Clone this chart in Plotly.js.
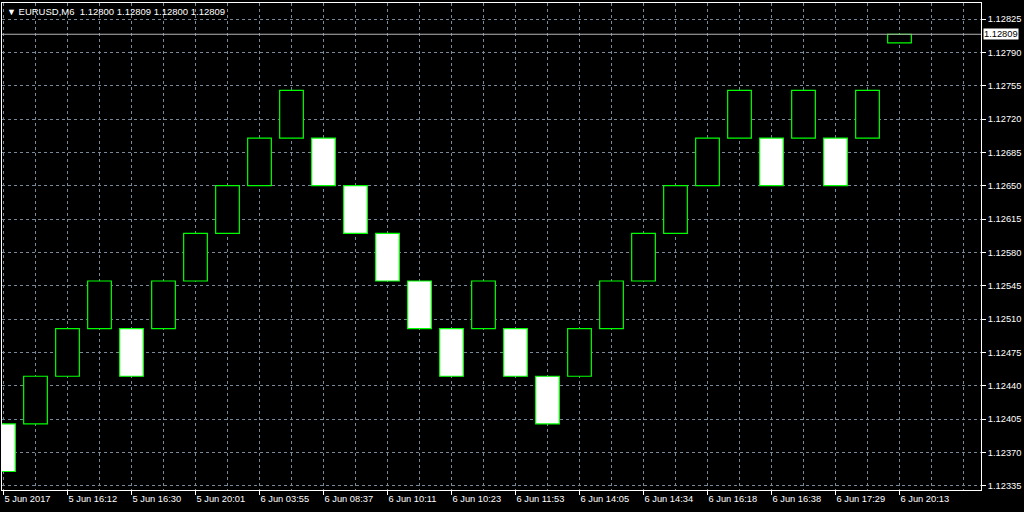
<!DOCTYPE html>
<html>
<head>
<meta charset="utf-8">
<script src="https://cdn.plot.ly/plotly-3.0.1.min.js"></script>
<style>
  html, body { margin: 0; padding: 0; background: #000; }
  #chart { width: 1024px; height: 512px; }
</style>
</head>
<body>
<div id="chart"></div>
<script>
// Renko bars (EURUSD, M6 offline chart)
const barOpen = [1.12400, 1.12400, 1.12450, 1.12500, 1.12500, 1.12500, 1.12550, 1.12600, 1.12650, 1.12700,
                 1.12700, 1.12650, 1.12600, 1.12550, 1.12500, 1.12500, 1.12500, 1.12450, 1.12450, 1.12500,
                 1.12550, 1.12600, 1.12650, 1.12700, 1.12700, 1.12700, 1.12700, 1.12700, 1.12800];
const barClose = [1.12350, 1.12450, 1.12500, 1.12550, 1.12450, 1.12550, 1.12600, 1.12650, 1.12700, 1.12750,
                  1.12650, 1.12600, 1.12550, 1.12500, 1.12450, 1.12550, 1.12450, 1.12400, 1.12500, 1.12550,
                  1.12600, 1.12650, 1.12700, 1.12750, 1.12650, 1.12750, 1.12650, 1.12750, 1.12809];
const timeLabels = ["5 Jun 2017", "5 Jun 16:12", "5 Jun 16:30", "5 Jun 20:01", "6 Jun 03:55",
                    "6 Jun 08:37", "6 Jun 10:11", "6 Jun 10:23", "6 Jun 11:53", "6 Jun 14:05",
                    "6 Jun 14:34", "6 Jun 16:18", "6 Jun 16:38", "6 Jun 17:29", "6 Jun 20:13"];
const symbolName = "EURUSD,M6";

const idx = barOpen.map((_, i) => i);
const base = barOpen.map((o, i) => Math.min(o, barClose[i]));
const len = barOpen.map((o, i) => Math.abs(barClose[i] - o));
const fills = barOpen.map((o, i) => barClose[i] < o ? '#ffffff' : '#000000');
const labelIdx = timeLabels.map((_, k) => k * 2);

const n = barOpen.length;
const lastO = barOpen[n - 1], lastC = barClose[n - 1];
const lastH = Math.max(lastO, lastC), lastL = Math.min(lastO, lastC);

const FONT = 'Liberation Sans, Arial, sans-serif';
const GRID = '#778899';

const trace = {
  type: 'bar',
  x: idx,
  base: base,
  y: len,
  width: 0.74,
  marker: { color: fills, line: { color: '#00ff00', width: 1.2 } },
  hoverinfo: 'none'
};

const layout = {
  width: 1024, height: 512,
  paper_bgcolor: '#000000',
  plot_bgcolor: '#000000',
  margin: { l: 2, r: 43, t: 3, b: 22, pad: 0 },
  showlegend: false,
  xaxis: {
    range: [-0.047, 30.547],
    tickmode: 'array',
    tickvals: labelIdx,
    ticktext: timeLabels,
    ticks: 'outside', ticklen: 4, tickwidth: 1, tickcolor: '#ffffff',
    ticklabelposition: 'outside right',
    tickfont: { family: FONT, size: 9.3, color: '#ffffff' },
    showgrid: true, gridcolor: GRID, gridwidth: 1, griddash: '3px,3px',
    minor: { tickmode: 'linear', tick0: 0, dtick: 1, showgrid: true, gridcolor: GRID, gridwidth: 1, griddash: '3px,3px', ticks: '' },
    showline: true, linecolor: '#ffffff', linewidth: 1, mirror: true,
    zeroline: false, fixedrange: true
  },
  yaxis: {
    side: 'right',
    range: [1.123306, 1.128418],
    tickmode: 'linear', tick0: 1.12335, dtick: 0.00035,
    tickformat: '.5f',
    ticks: 'outside', ticklen: 4, tickwidth: 1, tickcolor: '#ffffff',
    tickfont: { family: FONT, size: 9.3, color: '#ffffff' },
    showgrid: true, gridcolor: GRID, gridwidth: 1, griddash: '3px,3px',
    showline: true, linecolor: '#ffffff', linewidth: 1, mirror: true,
    zeroline: false, fixedrange: true
  },
  shapes: [{
    type: 'line', xref: 'paper', x0: 0, x1: 1, yref: 'y', y0: lastC, y1: lastC,
    line: { color: '#b4b4b4', width: 1 }, layer: 'above'
  }],
  annotations: [
    {
      xref: 'paper', yref: 'paper', x: 0, y: 1, xanchor: 'left', yanchor: 'top',
      xshift: 3, yshift: -1, showarrow: false,
      text: '<span style="font-size:9px">▼</span> ' + symbolName + '&nbsp;&nbsp;' +
            [lastO, lastH, lastL, lastC].map(v => v.toFixed(5)).join(' '),
      font: { family: FONT, size: 9.5, color: '#ffffff' }
    },
    {
      xref: 'paper', yref: 'y', x: 1, y: lastC, xanchor: 'left', yanchor: 'middle',
      xshift: 2, showarrow: false, text: lastC.toFixed(5),
      bgcolor: '#ffffff', borderpad: 0,
      font: { family: FONT, size: 9.3, color: '#000000' }
    }
  ]
};

Plotly.newPlot('chart', [trace], layout, { staticPlot: true, displayModeBar: false });
</script>
</body>
</html>
